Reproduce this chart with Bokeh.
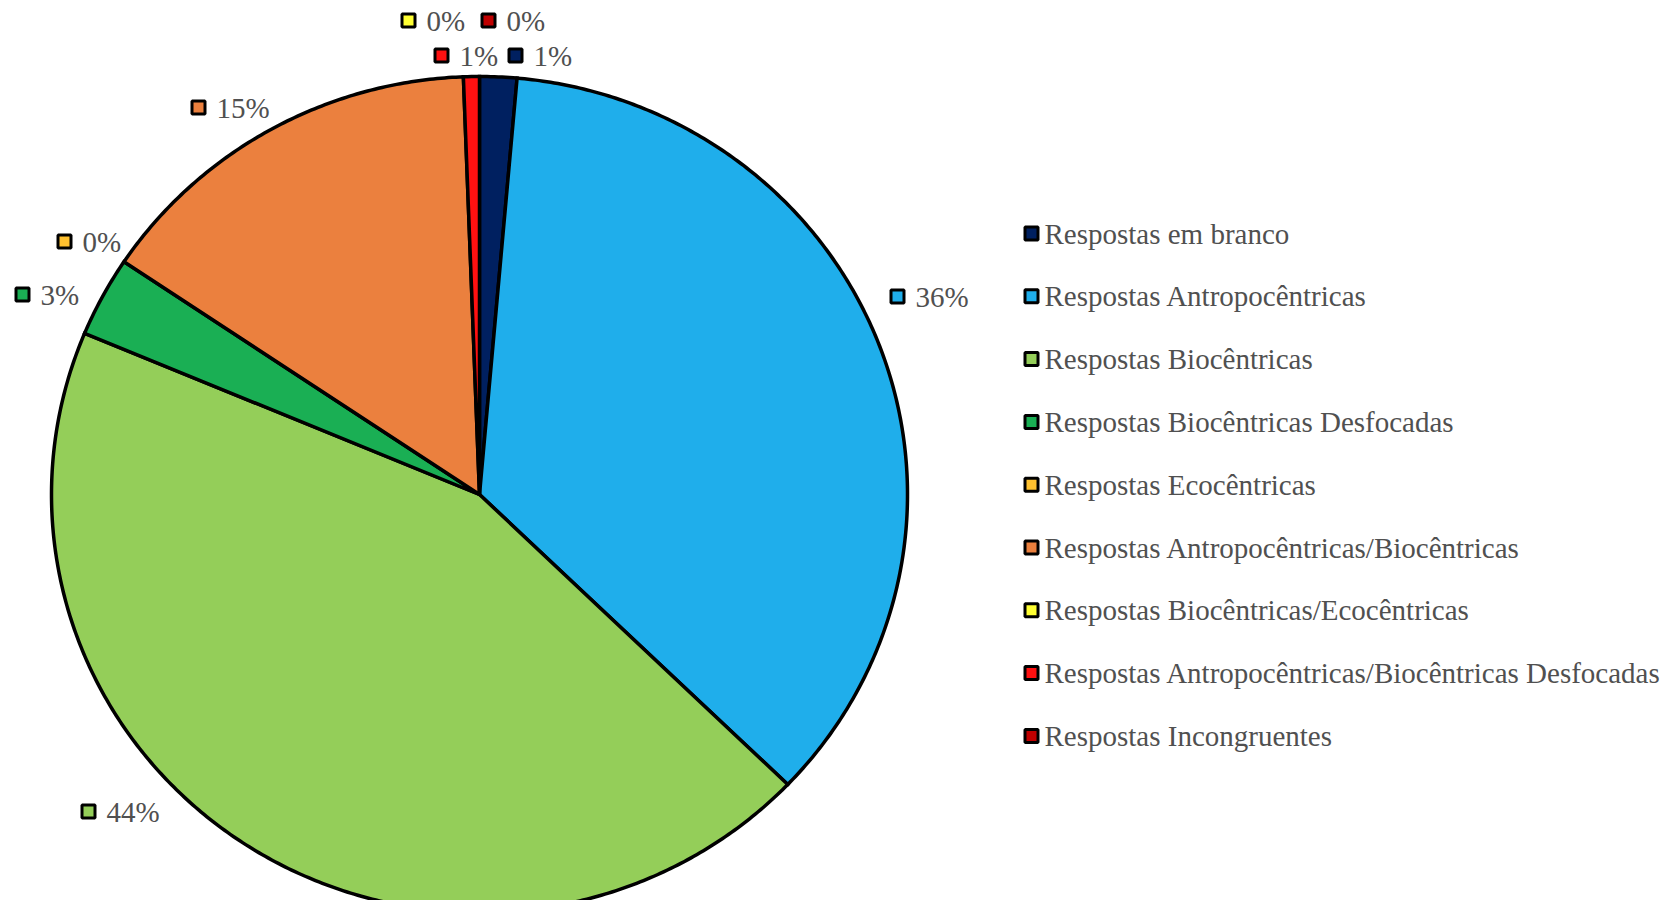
import math
from bokeh.plotting import figure
from bokeh.models import ColumnDataSource, Range1d
from bokeh.core.properties import value
from bokeh.embed import file_html
from bokeh.resources import INLINE

# ---- data ----
categories = [
    "Respostas em branco",
    "Respostas Antropocêntricas",
    "Respostas Biocêntricas",
    "Respostas Biocêntricas Desfocadas",
    "Respostas Ecocêntricas",
    "Respostas Antropocêntricas/Biocêntricas",
    "Respostas Biocêntricas/Ecocêntricas",
    "Respostas Antropocêntricas/Biocêntricas Desfocadas",
    "Respostas Incongruentes",
]
values = [1.4, 35.8, 44.1, 3.1, 0.0, 15.0, 0.0, 0.6, 0.0]
colors = ["#002060", "#1FAEEB", "#94CE59", "#1AAF54", "#FFC12F",
          "#EB803E", "#FFFF33", "#FF1111", "#C00000"]

# ---- layout (page pixel coordinates of the reference) ----
W, H = 1663, 900
CX, CY, RX, RY = 479, 494, 428, 418
label_xy = [(515, 55), (897, 296), (88, 811), (22, 294), (64, 241),
            (198, 107), (408, 20), (441, 55), (488, 20)]
LEG_X, LEG_Y0, LEG_DY = 1031, 233, 62.8
FONT = "Liberation Serif"
TXT_COL = "#505050"
FS = "29px"

p = figure(width=W, height=H, output_backend="svg", toolbar_location=None,
           x_range=Range1d(0, W), y_range=Range1d(-H, 0),
           min_border=0, outline_line_color=None)
p.axis.visible = False
p.grid.visible = False
p.background_fill_color = "white"
p.border_fill_color = "white"

# slices, clockwise from 12 o'clock (drawn as polygons so the slight
# vertical squash of the reference pie is kept)
total = sum(values)
xs, ys, cols = [], [], []
cum = 0.0
for v, c in zip(values, colors):
    f0 = cum / total
    cum += v
    f1 = cum / total
    if v <= 0:
        continue
    n = max(4, int(720 * (f1 - f0)))
    px, py = [CX], [-CY]
    for i in range(n + 1):
        t = 2 * math.pi * (f0 + (f1 - f0) * i / n)
        px.append(CX + RX * math.sin(t))
        py.append(-(CY - RY * math.cos(t)))
    xs.append(px)
    ys.append(py)
    cols.append(c)
src = ColumnDataSource(dict(xs=xs, ys=ys, color=cols))
p.patches(xs="xs", ys="ys", fill_color="color", line_color="black",
          line_width=3.5, line_join="miter", source=src)

# data labels
lab_src = ColumnDataSource(dict(
    x=[xy[0] for xy in label_xy], y=[-xy[1] for xy in label_xy],
    tx=[xy[0] + 18 for xy in label_xy],
    txt=[f"{v:.0f}%" for v in values], color=colors))
p.scatter(x="x", y="y", marker="square", size=13, fill_color="color",
          line_color="black", line_width=3, source=lab_src)
p.text(x="tx", y="y", text="txt", text_font=value(FONT), text_font_size=FS,
       text_color=TXT_COL, text_baseline="middle", text_align="left",
       source=lab_src)

# legend
leg_src = ColumnDataSource(dict(
    x=[LEG_X] * len(categories),
    y=[-(LEG_Y0 + i * LEG_DY) for i in range(len(categories))],
    tx=[LEG_X + 13] * len(categories),
    txt=categories, color=colors))
p.scatter(x="x", y="y", marker="square", size=13, fill_color="color",
          line_color="black", line_width=3, source=leg_src)
p.text(x="tx", y="y", text="txt", text_font=value(FONT), text_font_size=FS,
       text_color=TXT_COL, text_baseline="middle", text_align="left",
       source=leg_src)

open("out.html", "w").write(file_html(p, INLINE))
